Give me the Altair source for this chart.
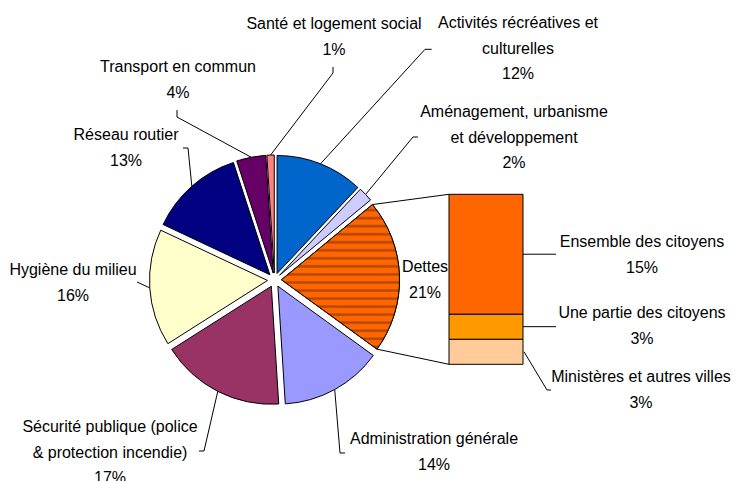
import math
import altair as alt
import pandas as pd

# ---------------- data ----------------
categories = [
    "Activités récréatives et\nculturelles",
    "Aménagement, urbanisme\net développement",
    "Dettes",
    "Administration générale",
    "Sécurité publique (police\n& protection incendie)",
    "Hygiène du milieu",
    "Réseau routier",
    "Transport en commun",
    "Santé et logement social",
]
shares = [12, 2, 21, 14, 17, 16, 13, 4, 1]
slice_colors = ["#0066CC", "#CCCCFF", "#FF6600", "#9999FF", "#993366",
                "#FFFFCC", "#000080", "#660066", "#FF8080"]

debt_parts = ["Ministères et autres villes", "Une partie des citoyens", "Ensemble des citoyens"]
debt_shares = [3.1, 3.1, 14.8]
debt_colors = ["#FFCC99", "#FF9900", "#FF6600"]

# ---------------- layout (pixels, page coordinates) ----------------
M = 8                      # page margin
W, H = 723, 475
CX, CY = 274.5 - M, 280 - M   # pie centre
R = 118                    # pie radius
D = 7                      # explode distance
BAR_X0, BAR_X1 = 449 - M, 523 - M
BAR_BOT, BAR_TOP = 364.3 - M, 194.3 - M
LINE_H = 25.5
FONT = "Liberation Sans"
FS = 16

label_pos = {   # centre x, centre y of first line
    0: (518, 23), 1: (514, 112), 2: (425, 267), 3: (434, 439), 4: (110, 427),
    5: (73, 270), 6: (126, 135), 7: (178, 67), 8: (334, 24),
}
debt_label_pos = {0: (641, 377), 1: (642, 313), 2: (642, 242)}

leader_elbows = {   # points from the label towards the slice (page coords)
    0: [(431.7, 49.3), (425, 49.3)],
    1: [(418, 137), (413, 137)],
    3: [(345, 453), (340, 453)],
    4: [(199, 451), (204, 451)],
    5: [(137, 282)],
    6: [(183, 148), (188, 148)],
    7: [(177, 110), (177, 117)],
    8: [(333, 67), (333, 73)],
}

# ---------------- helpers ----------------
xs = alt.Scale(domain=[0, W], nice=False, zero=False)
ys = alt.Scale(domain=[0, H], nice=False, zero=False, reverse=True)

cum = []
c = 0
for v in shares:
    cum.append((c, c + v))
    c += v


def ang(p):
    return 2 * math.pi * p / 100.0


def edge_point(i, pct):
    s, e = cum[i]
    mid = ang((s + e) / 2)
    a = ang(pct)
    return (CX + D * math.sin(mid) + R * math.sin(a),
            CY - D * math.cos(mid) - R * math.cos(a))


# ---------------- pie ----------------
pie_df = pd.DataFrame({"idx": list(range(len(shares))), "cat": categories,
                       "val": shares, "color": slice_colors})

pie_base = alt.Chart(pie_df).transform_window(
    cum="sum(val)", sort=[alt.SortField("idx")], frame=[None, 0]
).transform_calculate(
    start="datum.cum - datum.val",
    mid="datum.cum - datum.val / 2",
).transform_calculate(
    ox=f"{CX} + {D} * sin(2 * PI * datum.mid / 100)",
    oy=f"{CY} - {D} * cos(2 * PI * datum.mid / 100)",
)

pie_enc = dict(
    theta=alt.Theta("start:Q", scale=alt.Scale(domain=[0, 100], range=[0, 2 * math.pi]), stack=False),
    theta2="cum:Q",
    x=alt.X("ox:Q", scale=xs, axis=None, stack=False),
    y=alt.Y("oy:Q", scale=ys, axis=None, stack=False),
)

pie = pie_base.mark_arc(radius=R, stroke="black", strokeWidth=1).encode(
    fill=alt.Fill("color:N", scale=None), **pie_enc
)

# wavy hatch of the "Dettes" slice approximated by stripes
N = 18
stops = []
for k in range(N):
    b = k / N
    p = 1.0 / N
    stops += [
        alt.GradientStop(color="#FF6600", offset=b),
        alt.GradientStop(color="#FF6600", offset=b + 0.45 * p),
        alt.GradientStop(color="#B84800", offset=b + 0.62 * p),
        alt.GradientStop(color="#B84800", offset=b + 0.78 * p),
        alt.GradientStop(color="#FF6600", offset=b + 0.95 * p),
    ]
stops.append(alt.GradientStop(color="#FF6600", offset=1.0))
wave = alt.Gradient(gradient="linear", stops=stops, x1=0, x2=0, y1=0, y2=1)

pie_debt = pie_base.transform_filter("datum.idx == 2").mark_arc(
    radius=R, stroke="black", strokeWidth=1, fill=wave
).encode(**pie_enc)

# ---------------- bar of debt ----------------
bar_df = pd.DataFrame({"k": list(range(3)), "part": debt_parts,
                       "val": debt_shares, "color": debt_colors})
bar = alt.Chart(bar_df).transform_window(
    hi="sum(val)", sort=[alt.SortField("k")], frame=[None, 0]
).transform_calculate(lo="datum.hi - datum.val").mark_bar(
    stroke="black", strokeWidth=1
).encode(
    x=alt.value(BAR_X0), x2=alt.value(BAR_X1),
    y=alt.Y("lo:Q", scale=alt.Scale(domain=[0, sum(debt_shares)], range=[BAR_BOT, BAR_TOP]),
            axis=None, stack=False),
    y2="hi:Q",
    fill=alt.Fill("color:N", scale=None),
)

# ---------------- text labels ----------------
rows = []
for i, cat in enumerate(categories):
    lx, ly = label_pos[i]
    lines = cat.split("\n") + [f"{shares[i]:.0f}%"]
    for j, t in enumerate(lines):
        rows.append({"x": lx - M, "y": ly - M + j * LINE_H, "t": t})
for i, part in enumerate(debt_parts):
    lx, ly = debt_label_pos[i]
    for j, t in enumerate([part, f"{debt_shares[i]:.0f}%"]):
        rows.append({"x": lx - M, "y": ly - M + j * LINE_H, "t": t})
text_df = pd.DataFrame(rows)

texts = alt.Chart(text_df).mark_text(
    font=FONT, fontSize=FS, align="center", baseline="middle", color="black"
).encode(
    x=alt.X("x:Q", scale=xs, axis=None),
    y=alt.Y("y:Q", scale=ys, axis=None),
    text="t:N",
)

# ---------------- leader lines ----------------
lrows = []
g = 0
for i, pts in leader_elbows.items():
    s, e = cum[i]
    ex, ey = edge_point(i, (s + e) / 2)
    seq = [(px - M, py - M) for px, py in pts] + [(ex, ey)]
    for o, (px, py) in enumerate(seq):
        lrows.append({"g": g, "o": o, "x": px, "y": py})
    g += 1

# connectors from the Dettes slice to the bar
s, e = cum[2]
for pct, by in ((s, BAR_TOP), (e, BAR_BOT)):
    ex, ey = edge_point(2, pct)
    for o, (px, py) in enumerate([(ex, ey), (BAR_X0, by)]):
        lrows.append({"g": g, "o": o, "x": px, "y": py})
    g += 1


def bar_pix(v):
    return BAR_BOT + (BAR_TOP - BAR_BOT) * v / sum(debt_shares)


acc = 0
for i, v in enumerate(debt_shares):
    ymid = bar_pix(acc + v / 2)
    acc += v
    if i == 0:
        seq = [(BAR_X1 + 1, ymid), (547 - M, 390 - M), (551 - M, 390 - M)]
    else:
        seq = [(BAR_X1, ymid), (556 - M, ymid)]
    for o, (px, py) in enumerate(seq):
        lrows.append({"g": g, "o": o, "x": px, "y": py})
    g += 1

line_df = pd.DataFrame(lrows)
leaders = alt.Chart(line_df).mark_line(color="black", strokeWidth=1).encode(
    x=alt.X("x:Q", scale=xs, axis=None, stack=False),
    y=alt.Y("y:Q", scale=ys, axis=None, stack=False),
    detail="g:N",
    order="o:Q",
)

chart = alt.layer(leaders, pie, pie_debt, bar, texts).resolve_scale(
    y="independent", x="independent"
).properties(
    width=W, height=H, padding=0,
    autosize=alt.AutoSizeParams(type="none"),
    background="white",
).configure_view(strokeWidth=0)

chart.save("out.html", embed_options={"renderer": "svg", "actions": False})
